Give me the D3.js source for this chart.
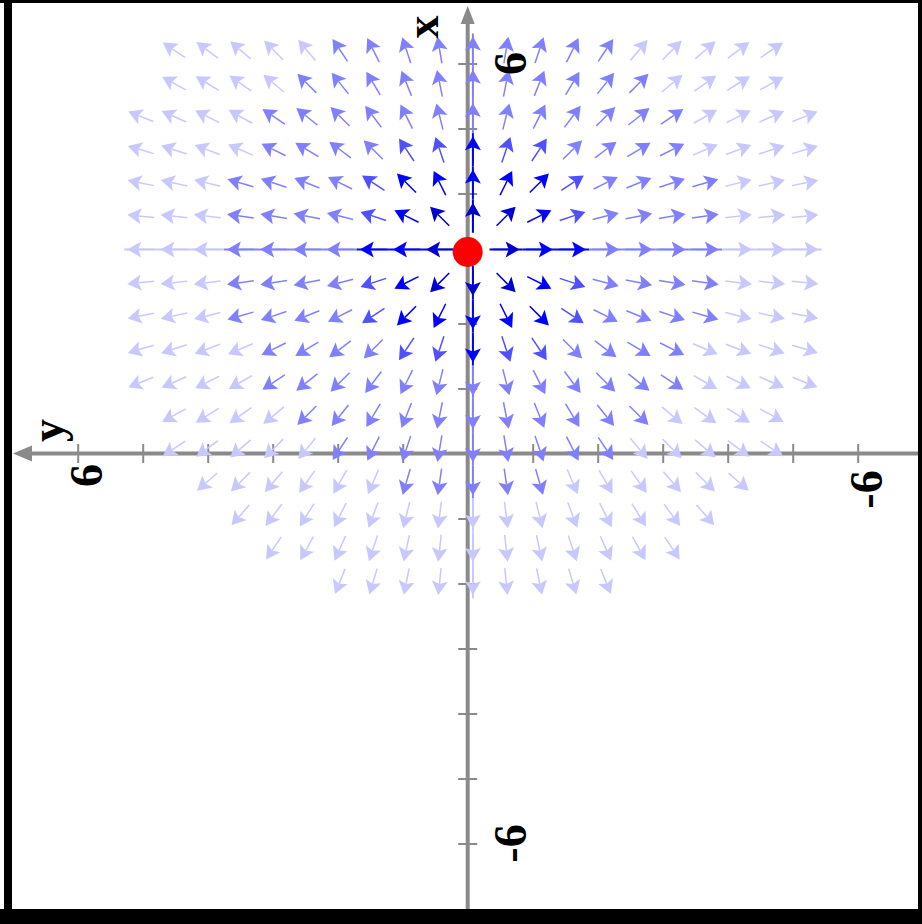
<!DOCTYPE html>
<html>
<head>
<meta charset="utf-8">
<script src="https://cdn.jsdelivr.net/npm/d3@7"></script>
<style>
  html, body { margin: 0; padding: 0; background: #fff; }
  svg { display: block; }
</style>
</head>
<body>
<script>
// ---- chart values ----
const xTicks = [-6, -5, -4, -3, -2, -1, 1, 2, 3, 4, 5, 6];   // vertical axis (x)
const yTicks = [-6, -5, -4, -3, -2, -1, 1, 2, 3, 4, 5, 6];   // horizontal axis (y)
const xTickLabels = [6, -6];
const yTickLabels = [6, -6];

// equilibrium of the system (a source), marked with the red dot
const eqPoint = { x: 3.1, y: 0 };
// centre of the sampled direction field and its grid
const fieldCenter = { x: 3.14, y: -0.08 };
const fieldStep = 0.511;                       // grid spacing, axis units
const rowSteps = [-6, -5, -4, -3, -2, -1, 0, 1, 2, 3, 4, 5, 6, 7, 8, 9, 10];
const colSteps = [-10, -9, -8, -7, -6, -5, -4, -3, -2, -1, 0, 1, 2, 3, 4, 5, 6, 7, 8, 9, 10];
const fieldRadius = 11;                        // samples drawn within this many steps

// arrow shading by distance from the source (in grid steps)
const shadeBreaks = [2, 3.1, 3.9, 7.5];
const shadeColors = ["#0000d2", "#0000ff", "#5050ff", "#8080ff", "#c8c8ff"];

// system: x' = x - x0, y' = y - y0  (radial source)
function field(x, y) {
  return [x - fieldCenter.x, y - fieldCenter.y];
}

// ---- layout ----
const W = 922, H = 924;
const svg = d3.select("body").append("svg").attr("width", W).attr("height", H);
svg.append("rect").attr("width", W).attr("height", H).attr("fill", "#fff");

// x runs up the page, y runs to the left
const xScale = d3.scaleLinear().domain([-6, 6]).range([843.5, 63.5]);
const yScale = d3.scaleLinear().domain([-6, 6]).range([857.7, 77.7]);
const shade = d3.scaleThreshold().domain(shadeBreaks).range(shadeColors);

const ax0 = yScale(0);   // screen X of the vertical (x) axis
const ay0 = xScale(0);   // screen Y of the horizontal (y) axis
const axisGray = "#8a8a8a";

// ---- axes ----
const gAxes = svg.append("g");
gAxes.append("line")
  .attr("x1", ax0).attr("x2", ax0).attr("y1", 14).attr("y2", 910)
  .attr("stroke", axisGray).attr("stroke-width", 4);
gAxes.append("path")
  .attr("d", `M${ax0},6 L${ax0 - 7},24 L${ax0 + 7},24 Z`)
  .attr("fill", axisGray);
gAxes.append("line")
  .attr("x1", 22).attr("x2", 918).attr("y1", ay0).attr("y2", ay0)
  .attr("stroke", axisGray).attr("stroke-width", 4);
gAxes.append("path")
  .attr("d", `M13,${ay0} L32,${ay0 - 8} L32,${ay0 + 8} Z`)
  .attr("fill", axisGray);

const tickLen = 19;
const xAxisG = gAxes.append("g")
  .attr("transform", `translate(${ax0 + tickLen / 2},0)`)
  .call(d3.axisLeft(xScale).tickValues(xTicks).tickSize(tickLen).tickFormat(""));
const yAxisG = gAxes.append("g")
  .attr("transform", `translate(0,${ay0 - tickLen / 2})`)
  .call(d3.axisBottom(yScale).tickValues(yTicks).tickSize(tickLen).tickFormat(""));
[xAxisG, yAxisG].forEach(g => {
  g.select(".domain").remove();
  g.selectAll(".tick line").attr("stroke", axisGray).attr("stroke-width", 2);
});

// ---- direction field ----
const samples = [];
rowSteps.forEach(j => colSteps.forEach(k => {
  const r = Math.hypot(j, k);
  if (r === 0 || r >= fieldRadius) return;
  const x = fieldCenter.x - j * fieldStep;
  const y = fieldCenter.y - k * fieldStep;
  samples.push({ j, k, r, x, y });
}));

const arrowLen = 27, headLen = 14, headHalf = 8, notch = 3;
const gField = svg.append("g");

// straight-line solutions through the source, along the sample row and column
const lineSamples = samples.filter(d => d.j === 0 || d.k === 0);
gField.selectAll("line.sl").data(lineSamples).join("line")
  .attr("class", "sl")
  .each(function (d) {
    const px = yScale(d.y), py = xScale(d.x);
    const half = (yScale(0) - yScale(fieldStep)) / 2;
    const horiz = d.j === 0;
    d3.select(this)
      .attr("x1", horiz ? px - half : px).attr("x2", horiz ? px + half : px)
      .attr("y1", horiz ? py : py - half).attr("y2", horiz ? py : py + half);
  })
  .attr("stroke", d => shade(d.r)).attr("stroke-width", 2);

const arrows = gField.selectAll("g.arrow").data(samples).join("g")
  .attr("class", "arrow")
  .attr("transform", d => {
    const [fx, fy] = field(d.x, d.y);
    const px = yScale(d.y), py = xScale(d.x);
    const dx = yScale(d.y + fy) - px;
    const dy = xScale(d.x + fx) - py;
    const ang = Math.atan2(dy, dx) * 180 / Math.PI;
    return `translate(${px},${py}) rotate(${ang})`;
  });
arrows.append("line")
  .attr("x1", -arrowLen / 2).attr("x2", arrowLen / 2 - headLen + notch)
  .attr("y1", 0).attr("y2", 0)
  .attr("stroke", d => shade(d.r)).attr("stroke-width", 1.5);
arrows.append("path")
  .attr("d", `M${arrowLen / 2},0 L${arrowLen / 2 - headLen},${-headHalf} L${arrowLen / 2 - headLen + notch},0 L${arrowLen / 2 - headLen},${headHalf} Z`)
  .attr("fill", d => shade(d.r));

// ---- equilibrium ----
svg.append("circle")
  .attr("cx", yScale(eqPoint.y)).attr("cy", xScale(eqPoint.x)).attr("r", 15)
  .attr("fill", "#ff0000");

// ---- labels (rotated with the axes) ----
const font = "'Liberation Serif', 'DejaVu Serif', serif";
function rotText(cx, cy, txt, dy) {
  svg.append("text")
    .attr("transform", `translate(${cx},${cy}) rotate(-90)`)
    .attr("text-anchor", "middle").attr("dy", dy)
    .attr("font-family", font).attr("font-weight", "bold").attr("font-size", 46)
    .attr("fill", "#000").text(txt);
}
rotText(ax0 - 40, 27, "x", "0.23em");
rotText(57, ay0 - 23, "y", "0.12em");
xTickLabels.forEach(v => rotText(ax0 + 42, xScale(v), v < 0 ? "-" + Math.abs(v) : String(v), "0.35em"));
yTickLabels.forEach(v => rotText(yScale(v) + 8, ay0 + 22 + (v < 0 ? 14 : 0), v < 0 ? "-" + Math.abs(v) : String(v), "0.35em"));

// ---- frame ----
const frame = svg.append("g").attr("fill", "#000");
frame.append("rect").attr("x", 4).attr("y", 0).attr("width", 8).attr("height", H);
frame.append("rect").attr("x", 0).attr("y", 0).attr("width", W).attr("height", 3);
frame.append("rect").attr("x", 918).attr("y", 0).attr("width", 4).attr("height", H);
frame.append("rect").attr("x", 0).attr("y", 909).attr("width", W).attr("height", 15);
</script>
</body>
</html>
